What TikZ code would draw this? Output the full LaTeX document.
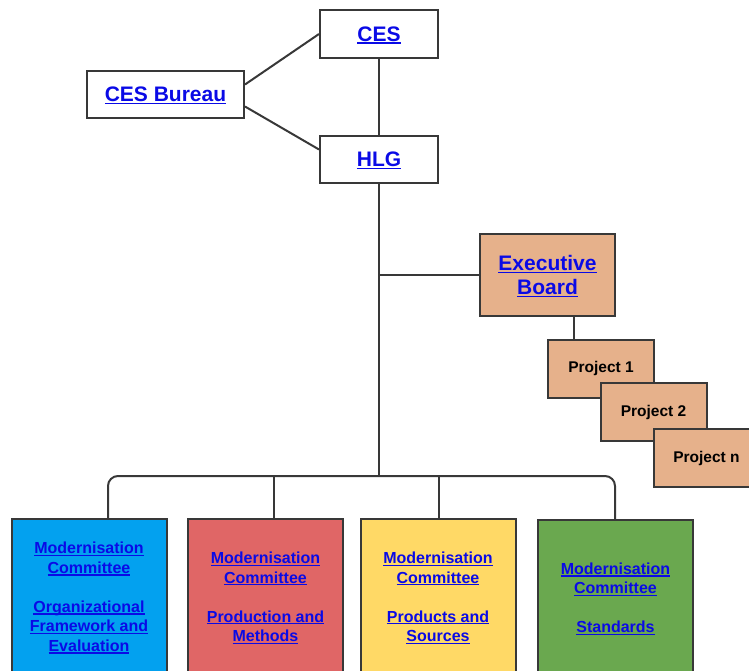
\documentclass[tikz,border=0pt]{standalone}
\usepackage{fontspec}
\setmainfont{Liberation Sans}
\usetikzlibrary{calc}
\definecolor{linkblue}{HTML}{0A0AE6}
\definecolor{edgegray}{HTML}{383838}
\definecolor{tan}{HTML}{E6B18B}
\definecolor{cblue}{HTML}{03A1EF}
\definecolor{cred}{HTML}{E06666}
\definecolor{cyellow}{HTML}{FFD966}
\definecolor{cgreen}{HTML}{6AA84F}
\newcommand\ulnk[1]{\setbox0\hbox{#1}\rlap{\smash{\rule[-0.13em]{\wd0}{0.075em}}}\box0}
\tikzset{
  box/.style={draw=edgegray, line width=2pt, fill=white, inner sep=0pt, align=center,
    font=\bfseries\fontsize{21}{24}\selectfont, text=linkblue},
  proj/.style={draw=edgegray, line width=2pt, fill=tan, inner sep=0pt, align=center,
    minimum width=106pt, minimum height=58pt, font=\bfseries\fontsize{15.5}{18}\selectfont, text=black},
  comm/.style={draw=edgegray, line width=2pt, inner sep=0pt, align=center,
    minimum width=155pt, minimum height=156pt, font=\bfseries\fontsize{16}{19.5}\selectfont, text=linkblue},
  conn/.style={draw=edgegray, line width=2pt}
}
\begin{document}
\begin{tikzpicture}[x=1pt,y=-1pt]
\useasboundingbox (0,0) rectangle (749,671);
\clip (0,0) rectangle (749,671);
\node[box, minimum width=118pt, minimum height=48pt] (ces) at (379,34) {\ulnk{CES}};
\node[box, minimum width=157pt, minimum height=47pt] (bur) at (165.5,94.5) {\ulnk{CES Bureau}};
\node[box, minimum width=118pt, minimum height=47pt] (hlg) at (379,159.5) {\ulnk{HLG}};
\node[box, fill=tan, minimum width=135pt, minimum height=82pt] (exec) at (547.5,275) {\ulnk{Executive}\\\ulnk{Board}};
\node[proj] (p1) at (601,368.5) {Project 1};
\node[proj] (p2) at (653.5,412) {Project 2};
\node[proj] (pn) at (706.5,458) {Project n};

\node[comm, fill=cblue] (blue) at (89,597) {\ulnk{Modernisation}\\\ulnk{Committee}\\[19.5pt]\ulnk{Organizational}\\\ulnk{Framework and}\\\ulnk{Evaluation}};
\node[comm, fill=cred] (red) at (265.5,597) {\ulnk{Modernisation}\\\ulnk{Committee}\\[19.5pt]\ulnk{Production and}\\\ulnk{Methods}};
\node[comm, fill=cyellow] (yel) at (438,597) {\ulnk{Modernisation}\\\ulnk{Committee}\\[19.5pt]\ulnk{Products and}\\\ulnk{Sources}};
\node[comm, fill=cgreen] (grn) at (615.5,598) {\ulnk{Modernisation}\\\ulnk{Committee}\\[19.5pt]\ulnk{Standards}};

\coordinate (b1) at (108,476);
\coordinate (b2) at (274,476);
\coordinate (b3) at (439,476);
\coordinate (b4) at (615,476);

\draw[conn] ([yshift=10pt]bur.east) -- (ces.west);
\draw[conn] ([yshift=-12pt]bur.east) -- ([yshift=10pt]hlg.west);
\draw[conn] (ces.south) -- (hlg.north);
\draw[conn] (hlg.south) -- (hlg.south |- b1);
\draw[conn] (exec.west) -- (exec.west -| hlg.south);
\draw[conn] ([xshift=26.5pt]exec.south) -- ([xshift=26.5pt]exec.south |- p1.north);
\draw[conn, rounded corners=10pt] (b1 |- blue.north) -- (b1) -- (b4) -- (b4 |- grn.north);
\draw[conn] (b2) -- (b2 |- red.north);
\draw[conn] (b3) -- (b3 |- yel.north);
\end{tikzpicture}
\end{document}
